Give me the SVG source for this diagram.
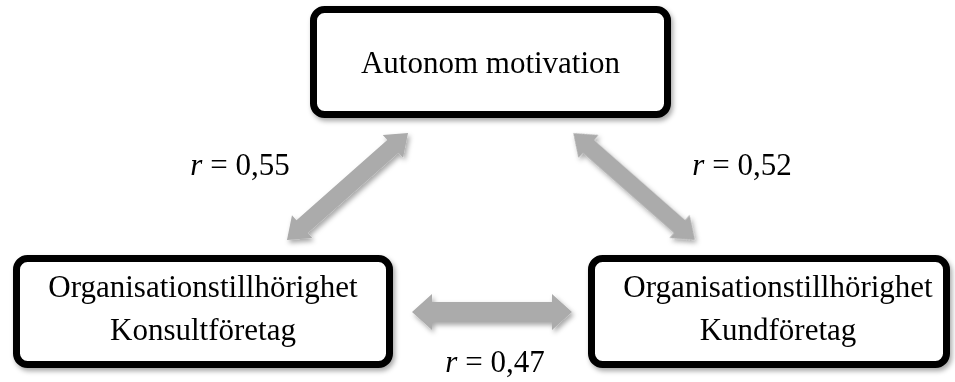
<svg xmlns="http://www.w3.org/2000/svg" width="955" height="382" viewBox="0 0 955 382">
  <style>
    .box { fill: #ffffff; stroke: #000000; stroke-width: 7; }
    .lbl { font-family: "Liberation Serif", "Times New Roman", serif; font-size: 31px; fill: #000; text-anchor: middle; }
    .arrow { fill: #ababab; }
  </style>
  <defs>
    <filter id="sh" x="-20%" y="-20%" width="140%" height="140%">
      <feDropShadow dx="2" dy="3" stdDeviation="2.5" flood-color="#000" flood-opacity="0.35"/>
    </filter>
    <path id="dbl" d="M -80 0 L -60 -18 L -60 -10 L 60 -10 L 60 -18 L 80 0 L 60 18 L 60 10 L -60 10 L -60 18 Z"/>
  </defs>

  <g id="connectors" class="arrow" filter="url(#sh)">
    <use href="#dbl" transform="translate(347.5,186.5) rotate(-41.5) scale(1.01,0.85)"/>
    <use href="#dbl" transform="translate(634,186.5) rotate(41.3) scale(1.01,0.85)"/>
    <use href="#dbl" transform="translate(492,312)"/>
  </g>

  <g id="node-autonom" filter="url(#sh)">
    <rect class="box" x="313.5" y="9.5" width="354" height="105" rx="11"/>
    <text class="lbl" x="490.5" y="73">Autonom motivation</text>
  </g>

  <g id="node-konsult" filter="url(#sh)">
    <rect class="box" x="16.5" y="258.5" width="373" height="106" rx="11"/>
    <text class="lbl" x="203" y="297">Organisationstillhörighet</text>
    <text class="lbl" x="203" y="340">Konsultföretag</text>
  </g>

  <g id="node-kund" filter="url(#sh)">
    <rect class="box" x="591.5" y="258.5" width="355" height="106" rx="11"/>
    <text class="lbl" x="778" y="297">Organisationstillhörighet</text>
    <text class="lbl" x="778" y="340">Kundföretag</text>
  </g>

  <g id="labels">
    <text class="lbl" x="240" y="175"><tspan font-style="italic">r</tspan> = 0,55</text>
    <text class="lbl" x="742" y="175"><tspan font-style="italic">r</tspan> = 0,52</text>
    <text class="lbl" x="495" y="372"><tspan font-style="italic">r</tspan> = 0,47</text>
  </g>
</svg>
